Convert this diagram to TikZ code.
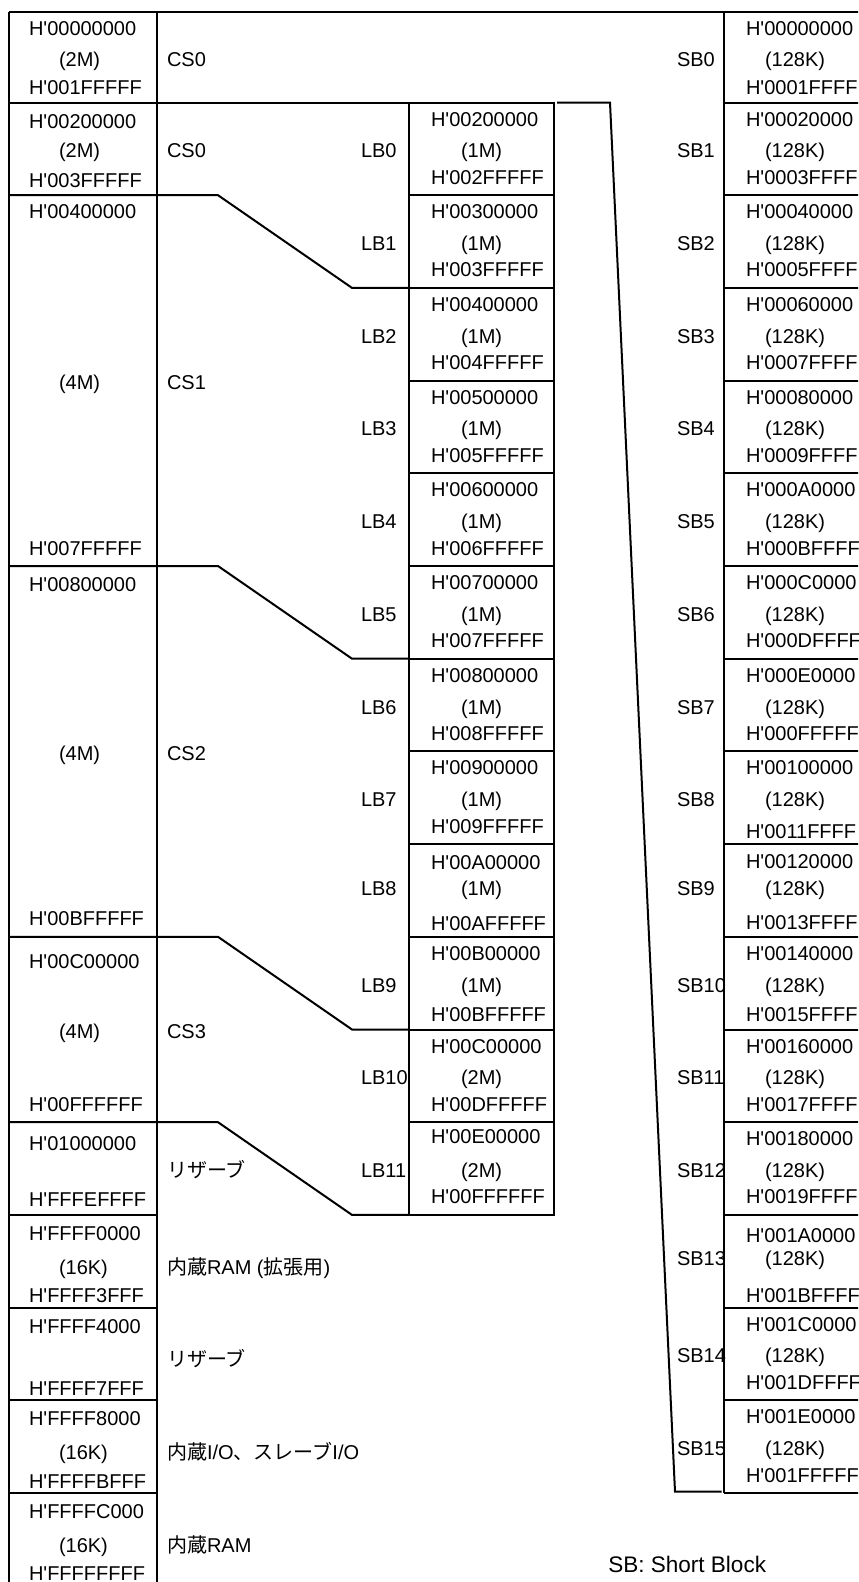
\documentclass[tikz,border=0pt]{standalone}
\usepackage{fontspec}
\setmainfont{Liberation Sans}[Ligatures=TeXOff]
\newfontfamily\cjk{Noto Sans CJK JP}
\newcommand\gridy[1]{((#1)==0 ? 11.7 : (102.5+92.7*((#1)-1)))}
\newcommand\lrow[9]{%
  \pgfmathsetmacro\T{\gridy{#2}}%
  \pgfmathsetmacro\B{\gridy{#3}}%
  \pgfmathsetmacro\C{(\T+\B)/2}%
  \node[tx] (#1-a) at (29,\T+23.5+#8) {H'#4};
  \if\relax\detokenize{#5}\relax\else
  \node[tx] (#1-s) at (59,\C+9+\lrdm) {#5};
  \fi
  \node[tx] (#1-b) at (29,\B-11+#9) {H'#6};
  \node[tx] (#1-l) at (167,\C+9+\lrdm) {#7};
}
\begin{document}
\begin{tikzpicture}[x=0.75pt,y=-0.75pt]
\tikzset{
  ln/.style={line width=1.5pt, line cap=butt, line join=miter},
  tx/.style={inner sep=0pt, outer sep=0pt, anchor=base west, font=\fontsize{15}{18}\selectfont},
}
\path[use as bounding box] (0,0) rectangle (858,1582);
\clip (0,0) rectangle (858,1582);

% ---------------- left column texts
\def\lrdm{0}
\lrow{r0}{0}{1}{00000000}{(2M)}{001FFFFF}{CS0}{0}{3}
\lrow{r1}{1}{2}{00200000}{(2M)}{003FFFFF}{CS0}{2}{3}
\lrow{r2}{2}{6}{00400000}{(4M)}{007FFFFF}{CS1}{0}{0}
\lrow{r3}{6}{10}{00800000}{(4M)}{00BFFFFF}{CS2}{2}{0}
\lrow{r4}{10}{12}{00C00000}{(4M)}{00FFFFFF}{CS3}{8}{0}
\lrow{r5}{12}{13}{01000000}{}{FFFEFFFF}{{\cjk リザーブ}}{5}{3}
\def\lrdm{4}
\lrow{r6}{13}{14}{FFFF0000}{(16K)}{FFFF3FFF}{{\cjk 内蔵}RAM ({\cjk 拡張用})}{2}{6}
\lrow{r7}{14}{15}{FFFF4000}{}{FFFF7FFF}{{\cjk リザーブ}}{2}{6}
\lrow{r8}{15}{16}{FFFF8000}{(16K)}{FFFFBFFF}{{\cjk 内蔵}I/O{\cjk 、スレーブ}I/O}{2}{6}
\lrow{r9}{16}{17}{FFFFC000}{(16K)}{FFFFFFFF}{{\cjk 内蔵}RAM}{2}{6}

% ---------------- LB texts
\foreach \k/\n/\a/\s/\b/\dt/\dm/\db in {
 1/0/00200000/1M/002FFFFF/0/0/0,
 2/1/00300000/1M/003FFFFF/0/0/0,
 3/2/00400000/1M/004FFFFF/0/0/0,
 4/3/00500000/1M/005FFFFF/0/0/0,
 5/4/00600000/1M/006FFFFF/0/0/0,
 6/5/00700000/1M/007FFFFF/0/0/0,
 7/6/00800000/1M/008FFFFF/0/0/0,
 8/7/00900000/1M/009FFFFF/0/0/0,
 9/8/00A00000/1M/00AFFFFF/2/-4/5,
 10/9/00B00000/1M/00BFFFFF/0/0/3,
 11/10/00C00000/2M/00DFFFFF/0/0/0,
 12/11/00E00000/2M/00FFFFFF/-2/0/0}
{
  \pgfmathsetmacro\T{102.5+92.7*(\k-1)}
  \pgfmathsetmacro\B{\T+92.7}
  \pgfmathsetmacro\C{\T+46.35}
  \node[tx] (lb\n-a) at (431,\T+23.5+\dt) {H'\a};
  \node[tx] (lb\n-s) at (461,\C+9+\dm) {(\s)};
  \node[tx] (lb\n-b) at (431,\B-11+\db) {H'\b};
  \node[tx] (lb\n-l) at (361,\C+9+\dm) {LB\n};
}

% ---------------- SB texts
\foreach \k/\a/\b/\dt/\dm/\db in {
 0/00000000/0001FFFF/0/0/3,
 1/00020000/0003FFFF/0/0/0,
 2/00040000/0005FFFF/0/0/0,
 3/00060000/0007FFFF/0/0/0,
 4/00080000/0009FFFF/0/0/0,
 5/000A0000/000BFFFF/0/0/0,
 6/000C0000/000DFFFF/0/0/0,
 7/000E0000/000FFFFF/0/0/0,
 8/00100000/0011FFFF/0/0/5,
 9/00120000/0013FFFF/1/-4/4,
 10/00140000/0015FFFF/0/0/3,
 11/00160000/0017FFFF/0/0/0,
 12/00180000/0019FFFF/0/0/0,
 13/001A0000/001BFFFF/4/-5/6,
 14/001C0000/001DFFFF/0/0/0,
 15/001E0000/001FFFFF/0/0/0}
{
  \pgfmathsetmacro\T{\gridy{\k}}
  \pgfmathsetmacro\B{\gridy{\k+1}}
  \pgfmathsetmacro\C{(\T+\B)/2}
  \node[tx] (sb\k-a) at (746,\T+23.5+\dt) {H'\a};
  \node[tx] (sb\k-s) at (765,\C+9+\dm) {(128K)};
  \node[tx] (sb\k-b) at (746,\B-11+\db) {H'\b};
  \node[tx] (sb\k-l) at (677,\C+9+\dm) {SB\k};
}

\node[inner sep=0pt, anchor=base west, font=\fontsize{16.9}{20}\selectfont] (legend) at (608,1572.7) {SB: Short Block};

% ---------------- lines
% top line and left column
\draw[ln] (9,11.7) -- (880,11.7);
\draw[ln] (9,11.7) -- (9,1600);
\draw[ln] (156.5,11.7) -- (156.5,1600);
\draw[ln] (9,102.5) -- (554,102.5);
\foreach \k in {13,14,15,16}{
  \pgfmathsetmacro\Y{\gridy{\k}}
  \draw[ln] (9,\Y) -- (156.5,\Y);
}
\foreach \k in {2,6,10,12}{
  \pgfmathsetmacro\Y{\gridy{\k}}
  \pgfmathsetmacro\Z{\gridy{\k+1}}
  \draw[ln] (9,\Y) -- (218,\Y) -- (352,\Z) -- (409,\Z);
}
% LB box
\draw[ln] (409,102.5) rectangle (554,1214.9);
\foreach \k in {2,...,12}{
  \pgfmathsetmacro\Y{\gridy{\k}}
  \draw[ln] (409,\Y) -- (554,\Y);
}
% connector
\coordinate (c0) at (557,102.5);
\coordinate (c1) at (610,102.5);
\coordinate (c2) at (675,1491.7);
\coordinate (c3) at (721.5,1491.7);
\draw[ln] (c0) -- (c1) -- (c2) -- (c3);
% SB box
\draw[ln] (724,11.7) -- (724,1493);
\foreach \k in {1,...,16}{
  \pgfmathsetmacro\Y{\gridy{\k}}
  \draw[ln] (724,\Y) -- (880,\Y);
}
\end{tikzpicture}
\end{document}
